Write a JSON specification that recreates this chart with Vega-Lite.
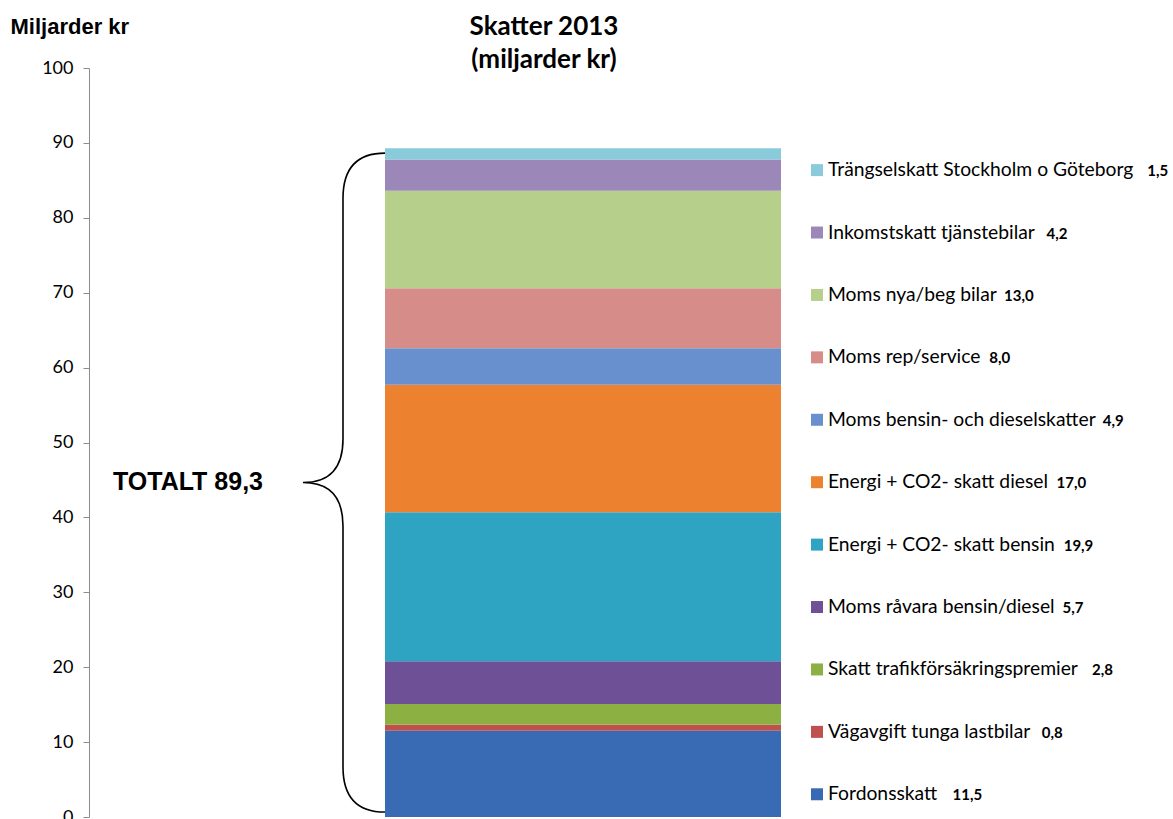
{
  "$schema": "https://vega.github.io/schema/vega-lite/v6.json",
  "width": 988,
  "height": 749,
  "autosize": {"type": "none"},
  "padding": {"left": 89, "top": 68, "right": 96, "bottom": 2},
  "background": "white",
  "config": {
    "view": {"stroke": null},
    "locale": {"number": {"decimal": ",", "thousands": " ", "grouping": [3], "currency": ["", " kr"]}}
  },
  "title": {
    "text": ["Skatter 2013", "(miljarder kr)"],
    "font": "Lato",
    "fontSize": 26,
    "fontWeight": "bold",
    "color": "black",
    "anchor": "middle",
    "dx": -39,
    "dy": 62,
    "offset": 4,
    "lineHeight": 33
  },
  "datasets": {
    "taxes": [
      {"year": "2013", "ord": 1, "category": "Fordonsskatt", "value": 11.5},
      {"year": "2013", "ord": 2, "category": "Vägavgift tunga lastbilar", "value": 0.8},
      {"year": "2013", "ord": 3, "category": "Skatt trafikförsäkringspremier", "value": 2.8},
      {"year": "2013", "ord": 4, "category": "Moms råvara bensin/diesel", "value": 5.7},
      {"year": "2013", "ord": 5, "category": "Energi + CO2- skatt bensin", "value": 19.9},
      {"year": "2013", "ord": 6, "category": "Energi + CO2- skatt diesel", "value": 17.0},
      {"year": "2013", "ord": 7, "category": "Moms bensin- och dieselskatter", "value": 4.9},
      {"year": "2013", "ord": 8, "category": "Moms rep/service", "value": 8.0},
      {"year": "2013", "ord": 9, "category": "Moms nya/beg bilar", "value": 13.0},
      {"year": "2013", "ord": 10, "category": "Inkomstskatt tjänstebilar", "value": 4.2},
      {"year": "2013", "ord": 11, "category": "Trängselskatt Stockholm o Göteborg", "value": 1.5}
    ],
    "total": [
      {"year": "2013", "label": "TOTALT 89,3", "total": 89.3, "half": 44.65}
    ]
  },
  "layer": [
    {
      "data": {"name": "taxes"},
      "mark": {"type": "bar", "width": 396},
      "encoding": {
        "x": {"field": "year", "type": "nominal", "axis": null},
        "y": {
          "field": "value",
          "type": "quantitative",
          "stack": "zero",
          "scale": {"domain": [0, 100], "nice": false, "zero": true},
          "axis": {
            "title": "Miljarder kr",
            "titleAngle": 0,
            "titleAlign": "left",
            "titleBaseline": "middle",
            "titleX": -79,
            "titleY": -42,
            "titleFont": "Liberation Sans",
            "titleFontSize": 22,
            "titleFontWeight": "bold",
            "titleColor": "black",
            "values": [0, 10, 20, 30, 40, 50, 60, 70, 80, 90, 100],
            "grid": false,
            "domainColor": "#8c8c8c",
            "tickColor": "#8c8c8c",
            "tickSize": 6,
            "labelFont": "Lato",
            "labelFontSize": 18,
            "labelColor": "black",
            "labelPadding": 10
          }
        },
        "order": {"field": "ord", "type": "quantitative"},
        "color": {
          "field": "category",
          "type": "nominal",
          "legend": null,
          "scale": {
            "domain": ["Fordonsskatt", "Vägavgift tunga lastbilar", "Skatt trafikförsäkringspremier", "Moms råvara bensin/diesel", "Energi + CO2- skatt bensin", "Energi + CO2- skatt diesel", "Moms bensin- och dieselskatter", "Moms rep/service", "Moms nya/beg bilar", "Inkomstskatt tjänstebilar", "Trängselskatt Stockholm o Göteborg"],
            "range": ["#386BB3", "#C0504D", "#8CB041", "#6E5096", "#2FA3C2", "#EC8230", "#6990CE", "#D68C89", "#B6D08C", "#9C88B8", "#8ACBDB"]
          }
        }
      }
    },
    {
      "data": {"name": "total"},
      "mark": {
        "type": "point",
        "shape": "M -0.592 -0.985 Q -0.7175 -0.985 -0.7175 -0.85 L -0.7175 -0.13 Q -0.7175 0 -0.837 0 Q -0.7175 0 -0.7175 0.13 L -0.7175 0.85 Q -0.7175 0.985 -0.592 0.985",
        "size": 447561,
        "filled": false,
        "stroke": "black",
        "strokeWidth": 1.6,
        "opacity": 1
      },
      "encoding": {
        "x": {"field": "year", "type": "nominal", "axis": null},
        "y": {"field": "half", "type": "quantitative", "scale": {"domain": [0, 100], "nice": false}, "axis": null}
      }
    },
    {
      "data": {"name": "total"},
      "mark": {
        "type": "text",
        "align": "right",
        "baseline": "middle",
        "dx": -320,
        "dy": -1,
        "font": "Liberation Sans",
        "fontSize": 25,
        "fontWeight": "bold",
        "color": "black"
      },
      "encoding": {
        "x": {"field": "year", "type": "nominal", "axis": null},
        "y": {"field": "half", "type": "quantitative", "scale": {"domain": [0, 100], "nice": false}, "axis": null},
        "text": {"field": "label"}
      }
    },
    {
      "data": {"name": "taxes"},
      "mark": {
        "type": "point",
        "shape": "M 228 -6 h 12 v 12 h -12 Z",
        "size": 4,
        "filled": true,
        "opacity": 1
      },
      "encoding": {
        "x": {"field": "year", "type": "nominal", "axis": null},
        "y": {
          "field": "category",
          "type": "nominal",
          "axis": null,
          "scale": {
            "type": "point",
            "domain": ["Trängselskatt Stockholm o Göteborg", "Inkomstskatt tjänstebilar", "Moms nya/beg bilar", "Moms rep/service", "Moms bensin- och dieselskatter", "Energi + CO2- skatt diesel", "Energi + CO2- skatt bensin", "Moms råvara bensin/diesel", "Skatt trafikförsäkringspremier", "Vägavgift tunga lastbilar", "Fordonsskatt"],
            "padding": 1.0667,
            "align": 0.818
          }
        },
        "color": {"field": "category", "type": "nominal", "legend": null}
      }
    },
    {
      "data": {"name": "taxes"},
      "mark": {
        "type": "text",
        "align": "left",
        "baseline": "middle",
        "dx": 245,
        "font": "Lato",
        "fontSize": 19.3,
        "color": "black"
      },
      "encoding": {
        "x": {"field": "year", "type": "nominal", "axis": null},
        "y": {
          "field": "category",
          "type": "nominal",
          "axis": null,
          "scale": {
            "type": "point",
            "domain": ["Trängselskatt Stockholm o Göteborg", "Inkomstskatt tjänstebilar", "Moms nya/beg bilar", "Moms rep/service", "Moms bensin- och dieselskatter", "Energi + CO2- skatt diesel", "Energi + CO2- skatt bensin", "Moms råvara bensin/diesel", "Skatt trafikförsäkringspremier", "Vägavgift tunga lastbilar", "Fordonsskatt"],
            "padding": 1.0667,
            "align": 0.818
          }
        },
        "text": {"field": "category"}
      }
    },
    {
      "data": {"name": "taxes"},
      "mark": {
        "type": "text",
        "align": "left",
        "baseline": "middle",
        "dx": {"expr": "257 + 19.3*(0.56*length(datum.category) - 0.32*(length(datum.category)-length(replace(datum.category, regexp('[ilj,.I]','g'), ''))) - 0.37*(length(datum.category)-length(replace(datum.category, regexp(' ','g'), ''))) - 0.21*(length(datum.category)-length(replace(datum.category, regexp('[tfr/-]','g'), ''))) - 0.13*(length(datum.category)-length(replace(datum.category, regexp('[sz]','g'), ''))) - 0.05*(length(datum.category)-length(replace(datum.category, regexp('[aceäåkgvyx]','g'), ''))) + 0.3*(length(datum.category)-length(replace(datum.category, regexp('[mMwW]','g'), ''))) + 0.1*(length(datum.category)-length(replace(datum.category, regexp('[A-HJ-LN-Z0-9+ÅÄÖ]','g'), ''))))"},
        "dy": 1,
        "font": "Lato",
        "fontSize": 15,
        "fontWeight": "bold",
        "color": "black"
      },
      "encoding": {
        "x": {"field": "year", "type": "nominal", "axis": null},
        "y": {
          "field": "category",
          "type": "nominal",
          "axis": null,
          "scale": {
            "type": "point",
            "domain": ["Trängselskatt Stockholm o Göteborg", "Inkomstskatt tjänstebilar", "Moms nya/beg bilar", "Moms rep/service", "Moms bensin- och dieselskatter", "Energi + CO2- skatt diesel", "Energi + CO2- skatt bensin", "Moms råvara bensin/diesel", "Skatt trafikförsäkringspremier", "Vägavgift tunga lastbilar", "Fordonsskatt"],
            "padding": 1.0667,
            "align": 0.818
          }
        },
        "text": {"field": "value", "type": "quantitative", "format": ".1f"}
      }
    }
  ],
  "resolve": {"scale": {"y": "independent"}}
}
